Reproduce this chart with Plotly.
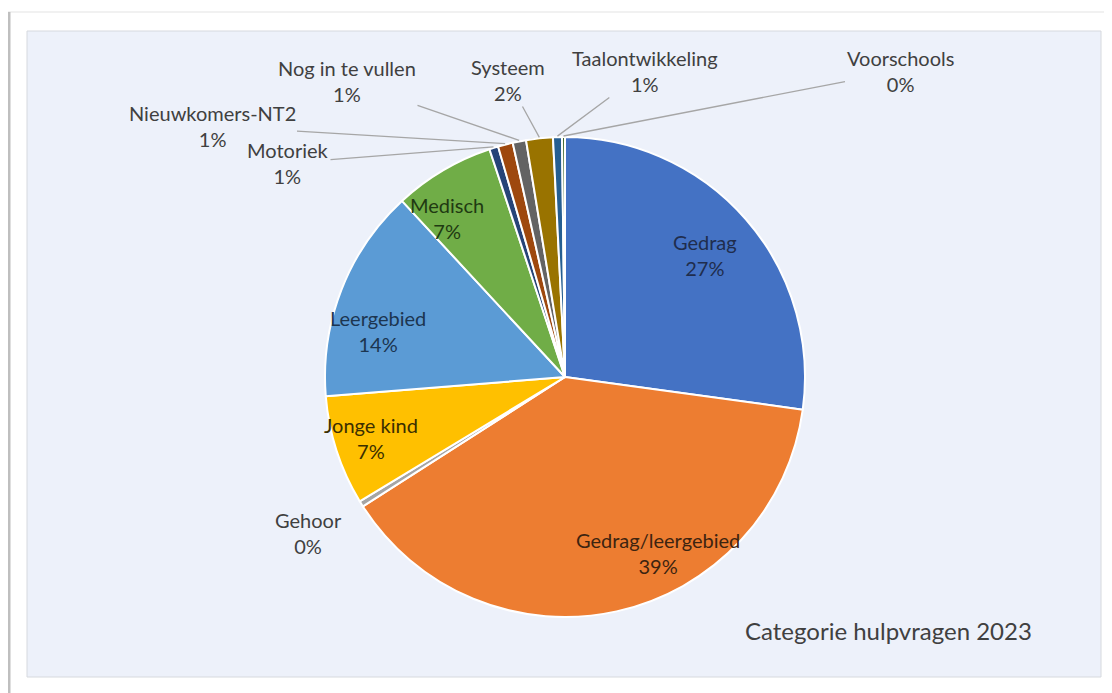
import math
import plotly.graph_objects as go

# ---- data ----
categories = ["Gedrag", "Gedrag/leergebied", "Gehoor", "Jonge kind", "Leergebied",
              "Medisch", "Motoriek", "Nieuwkomers-NT2", "Nog in te vullen",
              "Systeem", "Taalontwikkeling", "Voorschools"]
values = [27.2, 38.8, 0.4, 7.4, 14.4, 6.8, 0.6, 1.0, 0.9, 1.8, 0.6, 0.2]
chart_title = "Categorie hulpvragen 2023"

# ---- style ----
colors = ["#4472C4", "#ED7D31", "#A5A5A5", "#FFC000", "#5B9BD5", "#70AD47",
          "#264478", "#9E480E", "#636363", "#997300", "#255E91", "#43682B"]
PAGE_W, PAGE_H = 1112, 693
OFF = 8  # browser body margin
W, H = PAGE_W - OFF, PAGE_H - OFF
CX, CY, R = 565, 377, 240  # in page pixels
FONT = "Lato"
LABEL_SIZE = 20
TITLE_SIZE = 24


def px(x):
    return (x - OFF) / W


def py(y):
    return 1 - (y - OFF) / H


# label centres in page pixels (layout), leader line flag, text colour
label_layout = {
    "Gedrag": (705, 255, False, "#1f2d4d"),
    "Gedrag/leergebied": (658, 553, False, "#3d2410"),
    "Gehoor": (308, 533, False, "#404040"),
    "Jonge kind": (371, 438, False, "#3b2f00"),
    "Leergebied": (378, 331, False, "#1c3550"),
    "Medisch": (447, 218, False, "#1f3a12"),
    "Motoriek": (288, 163, True, "#404040"),
    "Nieuwkomers-NT2": (212, 126, True, "#404040"),
    "Nog in te vullen": (347, 81, True, "#404040"),
    "Systeem": (508, 80, True, "#404040"),
    "Taalontwikkeling": (645, 71, True, "#404040"),
    "Voorschools": (900, 71, True, "#404040"),
}

total = sum(values)
fig = go.Figure()
fig.add_trace(go.Pie(
    labels=categories, values=values, sort=False, direction="clockwise",
    rotation=0, marker=dict(colors=colors, line=dict(color="white", width=2)),
    textinfo="none", hoverinfo="label+percent", showlegend=False,
    domain=dict(x=[px(CX - R), px(CX + R)], y=[py(CY + R), py(CY - R)]),
))

annotations = []
cum = 0.0
for cat, v in zip(categories, values):
    mid = (cum + v / 2) / total * 2 * math.pi
    cum += v
    pct = round(v / total * 100)
    lx, ly, leader, tcol = label_layout[cat]
    text = f"{cat}<br>{pct}%"
    if leader:
        hx = CX + (R + 1) * math.sin(mid)
        hy = CY - (R + 1) * math.cos(mid)
        annotations.append(dict(
            x=px(hx), y=py(hy), xref="paper", yref="paper",
            ax=lx - hx, ay=ly - hy, text=text, showarrow=True, arrowhead=0,
            arrowcolor="#A6A6A6", arrowwidth=1.3, standoff=0, startstandoff=0,
            font=dict(family=FONT, size=LABEL_SIZE, color=tcol), align="center"))
    else:
        annotations.append(dict(
            x=px(lx), y=py(ly), xref="paper", yref="paper", text=text,
            showarrow=False, font=dict(family=FONT, size=LABEL_SIZE, color=tcol),
            align="center", xanchor="center", yanchor="middle"))

annotations.append(dict(
    x=px(888), y=py(630), xref="paper", yref="paper", text=chart_title,
    showarrow=False, font=dict(family=FONT, size=TITLE_SIZE, color="#404040"),
    xanchor="center", yanchor="middle"))

shapes = [
    # outer frame
    dict(type="rect", xref="paper", yref="paper", x0=px(8), x1=1.01, y0=-0.01, y1=py(12),
         fillcolor="white", line=dict(color="#E3E3E3", width=1), layer="below"),
    dict(type="line", xref="paper", yref="paper", x0=px(9), x1=px(9), y0=-0.01, y1=py(12),
         line=dict(color="#BFBFBF", width=3), layer="below"),
    # inner panel
    dict(type="rect", xref="paper", yref="paper", x0=px(27), x1=px(1101),
         y0=py(677), y1=py(31),
         fillcolor="#EDF1FA", line=dict(color="#D6D9DE", width=1), layer="below"),
]

fig.update_layout(
    width=W, height=H, autosize=False,
    margin=dict(l=0, r=0, t=0, b=0),
    paper_bgcolor="white", plot_bgcolor="white",
    annotations=annotations, shapes=shapes,
    font=dict(family=FONT),
)

fig.write_html("out.html")
